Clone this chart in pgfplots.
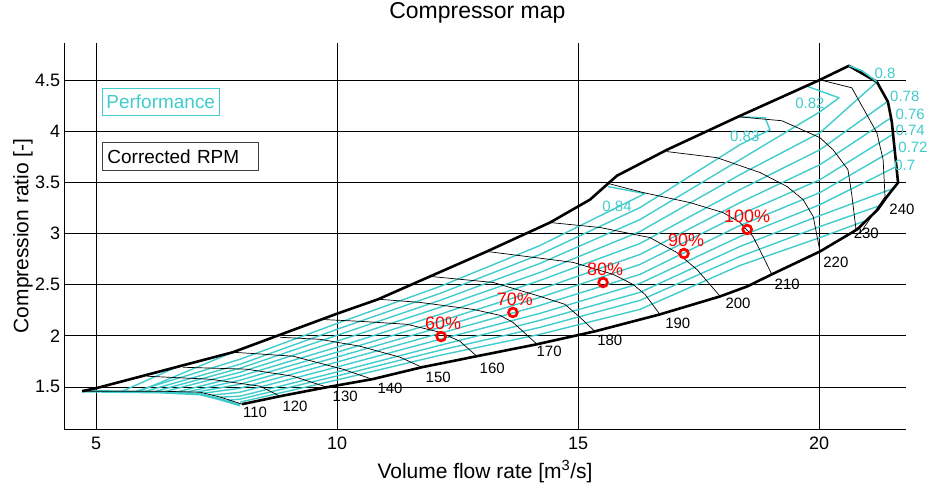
\documentclass[border=0pt]{standalone}
\usepackage{pgfplots}
\pgfplotsset{compat=1.18}
\usepackage{fontspec}
\setmainfont{Liberation Sans}
\definecolor{perf}{RGB}{64,204,204}
\begin{document}
\begin{tikzpicture}
\begin{axis}[
  scale only axis, width=843pt, height=387pt,
  xmin=4.34, xmax=21.8, ymin=1.087, ymax=4.864,
  axis x line*=bottom, axis y line*=left,
  xtick={5,10,15,20}, ytick={1.5,2,2.5,3,3.5,4,4.5},
  grid=major, grid style={black, line width=0.6pt},
  tick align=inside, major tick length=0pt,
  tick label style={font=\fontsize{18}{20}\selectfont},
  yticklabel style={inner xsep=4pt},
  xticklabel style={inner ysep=7.5pt},
  /pgf/number format/assume math mode=true,
  xlabel={Volume flow rate [m\textsuperscript{3}/s]}, ylabel={Compression ratio [-]},
  label style={font=\fontsize{21}{24}\selectfont},
  xlabel style={at={(axis description cs:0.5,-0.1266)}, anchor=base},
  ylabel style={at={(axis description cs:-0.0427,0.5)}, anchor=base},
  title={Compressor map}, title style={font=\fontsize{23}{26}\selectfont, at={(axis description cs:0.491,1.0465)}, anchor=base},
  clip=false,
  perfline/.style={perf, line width=1.4pt, line join=round},
  speed/.style={black, line width=0.7pt, line join=round},
]
\coordinate (bbA) at (axis cs:3.008,0.570);
\coordinate (bbB) at (axis cs:22.282,5.2824);
% efficiency contours
\addplot[perf, line width=2.6pt] coordinates {(4.71,1.458)(6.33,1.448)(7.16,1.429)(7.57,1.380)(7.99,1.321)};
\addplot[perfline] coordinates {(15.622,3.458)(16.390,3.390)(14.212,2.882)(12.137,2.482)(10.062,2.131)(7.988,1.770)(5.830,1.458)};
\addplot[perfline] coordinates {(18.320,4.141)(18.880,4.131)(18.983,4.014)(18.361,3.868)(16.286,3.253)(14.212,2.795)(12.137,2.414)(10.062,2.073)(7.988,1.721)(6.037,1.458)};
\addplot[perfline] coordinates {(19.730,4.443)(20.415,4.326)(20.021,4.190)(18.361,3.721)(16.286,3.136)(14.212,2.707)(12.137,2.346)(10.062,2.014)(7.988,1.682)(6.245,1.458)};
\addplot[perfline] coordinates {(20.622,4.639)(20.892,4.590)(21.203,4.482)(20.021,3.985)(18.361,3.575)(16.286,3.019)(14.212,2.619)(12.137,2.278)(10.062,1.956)(7.988,1.643)(6.452,1.458)};
\addplot[perfline] coordinates {(21.411,4.287)(20.021,3.819)(18.361,3.429)(16.286,2.902)(14.212,2.541)(12.137,2.209)(10.062,1.897)(7.988,1.604)(6.660,1.448)};
\addplot[perfline] coordinates {(21.494,4.131)(20.021,3.673)(18.361,3.302)(16.286,2.795)(14.212,2.453)(12.137,2.141)(10.062,1.848)(7.988,1.565)(6.867,1.448)};
\addplot[perfline] coordinates {(21.515,3.965)(20.021,3.526)(18.361,3.185)(16.286,2.697)(14.212,2.375)(12.137,2.082)(10.062,1.800)(7.988,1.526)(7.075,1.448)};
\addplot[perfline] coordinates {(21.556,3.819)(20.021,3.400)(18.361,3.078)(16.286,2.600)(14.212,2.297)(12.137,2.024)(10.062,1.751)(7.988,1.487)(7.241,1.439)};
\addplot[perfline] coordinates {(21.598,3.653)(20.021,3.282)(18.361,2.970)(16.286,2.512)(14.212,2.219)(12.137,1.965)(10.062,1.702)(7.988,1.448)(7.407,1.419)};
\addplot[perfline] coordinates {(21.535,3.439)(20.021,3.175)(18.361,2.873)(16.286,2.424)(14.212,2.151)(12.137,1.907)(10.062,1.653)(7.988,1.409)(7.573,1.400)};
\addplot[perfline] coordinates {(21.266,3.273)(20.021,3.068)(18.361,2.775)(16.286,2.346)(14.212,2.082)(12.137,1.858)(10.062,1.614)(7.988,1.380)(7.739,1.370)};
\addplot[perfline] coordinates {(20.975,3.126)(20.021,2.960)(18.361,2.687)(16.286,2.258)(14.212,2.014)(12.137,1.809)(10.062,1.575)(7.988,1.351)};
\addplot[perfline] coordinates {(5.498,1.448)(6.805,1.721)};
\addplot[perfline] coordinates {(5.851,1.448)(7.842,1.839)};
% speed lines
\addplot[speed] coordinates {(4.71,1.458)(6.33,1.458)(7.16,1.448)(7.58,1.400)(8.03,1.331)};
\addplot[speed] coordinates {(6.06,1.604)(7.37,1.575)(8.40,1.507)(8.82,1.409)};
\addplot[speed] coordinates {(6.80,1.692)(8.13,1.673)(9.09,1.604)(9.79,1.497)};
\addplot[speed] coordinates {(7.84,1.839)(9.09,1.800)(10.12,1.673)(10.73,1.575)};
\addplot[speed] coordinates {(8.82,1.985)(9.65,1.965)(10.48,1.897)(11.31,1.790)(11.76,1.692)};
\addplot[speed] coordinates {(9.65,2.160)(10.48,2.141)(11.45,2.112)(12.14,2.034)(12.55,1.946)(12.90,1.800)};
\addplot[speed] coordinates {(10.89,2.356)(11.72,2.326)(12.82,2.258)(13.38,2.200)(13.65,2.131)(14.15,1.917)};
\addplot[speed] coordinates {(11.93,2.580)(13.24,2.521)(14.21,2.385)(14.73,2.307)(15.04,2.180)(15.35,2.043)};
\addplot[speed] coordinates {(13.11,2.824)(14.90,2.717)(15.73,2.600)(16.14,2.502)(16.39,2.404)(16.70,2.209)};
\addplot[speed] coordinates {(14.42,3.107)(15.46,3.058)(16.49,2.960)(17.05,2.814)(17.47,2.646)(17.95,2.385)};
\addplot[speed] coordinates {(15.64,3.487)(16.35,3.400)(17.32,3.302)(18.01,3.204)(18.36,3.107)(18.63,2.970)(18.84,2.775)(19.02,2.600)};
\addplot[speed] coordinates {(16.85,3.800)(17.88,3.741)(18.78,3.595)(19.34,3.458)(19.67,3.331)(19.88,3.165)(20.02,2.824)};
\addplot[speed] coordinates {(18.32,4.141)(19.23,4.102)(20.02,3.936)(20.29,3.819)(20.60,3.624)(20.68,3.380)(20.77,3.029)};
\addplot[speed] coordinates {(20.02,4.502)(20.68,4.424)(21.20,3.985)(21.33,3.722)(21.37,3.360)(20.85,3.00)};
% boundary (surge, top, choke)
\addplot[black, line width=2.6pt, line join=round] coordinates {
(4.71,1.458)(5.00,1.487)(7.84,1.839)(10.02,2.219)(10.85,2.356)(11.93,2.580)(13.11,2.824)(14.42,3.107)(15.25,3.331)(15.60,3.478)(15.81,3.565)(16.85,3.819)(18.32,4.141)(20.02,4.502)(20.62,4.639)(21.20,4.482)(21.43,4.287)(21.51,4.092)(21.64,3.497)(21.41,3.360)(21.22,3.234)(20.79,3.039)(20.02,2.824)(19.02,2.600)(18.51,2.482)(17.95,2.385)(16.70,2.209)(15.35,2.043)(14.15,1.917)(12.90,1.800)(11.76,1.692)(10.73,1.575)(9.79,1.497)(8.82,1.409)(8.03,1.331)};
% efficiency 0.8 along top boundary
\addplot[perfline] coordinates {(20.622,4.639)(20.892,4.590)(21.203,4.482)};
% operating points
\addplot[red, only marks, mark=o, mark size=4.4pt, line width=2.7pt] coordinates {(12.16,1.992)(13.65,2.228)(15.52,2.521)(17.20,2.804)(18.51,3.039)};
% speed labels
\node[font=\fontsize{15}{16}\selectfont] at (axis cs:8.30,1.252) {110};
\node[font=\fontsize{15}{16}\selectfont] at (axis cs:9.13,1.31) {120};
\node[font=\fontsize{15}{16}\selectfont] at (axis cs:10.17,1.41) {130};
\node[font=\fontsize{15}{16}\selectfont] at (axis cs:11.10,1.487) {140};
\node[font=\fontsize{15}{16}\selectfont] at (axis cs:12.10,1.595) {150};
\node[font=\fontsize{15}{16}\selectfont] at (axis cs:13.22,1.68) {160};
\node[font=\fontsize{15}{16}\selectfont] at (axis cs:14.40,1.85) {170};
\node[font=\fontsize{15}{16}\selectfont] at (axis cs:15.66,1.956) {180};
\node[font=\fontsize{15}{16}\selectfont] at (axis cs:17.07,2.12) {190};
\node[font=\fontsize{15}{16}\selectfont] at (axis cs:18.32,2.316) {200};
\node[font=\fontsize{15}{16}\selectfont] at (axis cs:19.34,2.50) {210};
\node[font=\fontsize{15}{16}\selectfont] at (axis cs:20.35,2.717) {220};
\node[font=\fontsize{15}{16}\selectfont] at (axis cs:20.98,3.0) {230};
\node[font=\fontsize{15}{16}\selectfont] at (axis cs:21.72,3.234) {240};
% efficiency labels
\node[font=\fontsize{15}{16}\selectfont, text=perf] at (axis cs:21.37,4.57) {0.8};
\node[font=\fontsize{15}{16}\selectfont, text=perf] at (axis cs:21.78,4.336) {0.78};
\node[font=\fontsize{15}{16}\selectfont, text=perf] at (axis cs:21.89,4.16) {0.76};
\node[font=\fontsize{15}{16}\selectfont, text=perf] at (axis cs:21.89,4.01) {0.74};
\node[font=\fontsize{15}{16}\selectfont, text=perf] at (axis cs:21.95,3.84) {0.72};
\node[font=\fontsize{15}{16}\selectfont, text=perf] at (axis cs:21.78,3.67) {0.7};
\node[font=\fontsize{15}{16}\selectfont, text=perf] at (axis cs:19.81,4.27) {0.82};
\node[font=\fontsize{15}{16}\selectfont, text=perf] at (axis cs:18.46,3.945) {0.83};
\node[font=\fontsize{15}{16}\selectfont, text=perf] at (axis cs:15.81,3.263) {0.84};
% operating point labels
\node[font=\fontsize{18}{20}\selectfont, text=red, anchor=south, yshift=3pt, xshift=2pt] at (axis cs:12.16,1.992) {60\%};
\node[font=\fontsize{18}{20}\selectfont, text=red, anchor=south, yshift=3pt, xshift=2pt] at (axis cs:13.65,2.228) {70\%};
\node[font=\fontsize{18}{20}\selectfont, text=red, anchor=south, yshift=3pt, xshift=2pt] at (axis cs:15.52,2.521) {80\%};
\node[font=\fontsize{18}{20}\selectfont, text=red, anchor=south, yshift=3pt, xshift=2pt] at (axis cs:17.20,2.804) {90\%};
\node[font=\fontsize{18}{20}\selectfont, text=red, anchor=south, yshift=3pt] at (axis cs:18.51,3.039) {100\%};
% text boxes
\node[draw=perf, line width=0.8pt, text=perf, anchor=west, font=\fontsize{19}{21}\selectfont, inner xsep=4pt, minimum height=27pt] at (rel axis cs:0.045,0.8476) {Performance};
\node[draw=black!75, line width=0.8pt, text=black, anchor=west, font=\fontsize{19}{21}\selectfont, inner xsep=4pt, minimum height=28pt, minimum width=156pt, align=left, text width=146pt] at (rel axis cs:0.045,0.7054) {Corrected RPM};
\end{axis}
\pgfresetboundingbox
\path[use as bounding box] (bbA) rectangle (bbB);
\end{tikzpicture}
\end{document}
